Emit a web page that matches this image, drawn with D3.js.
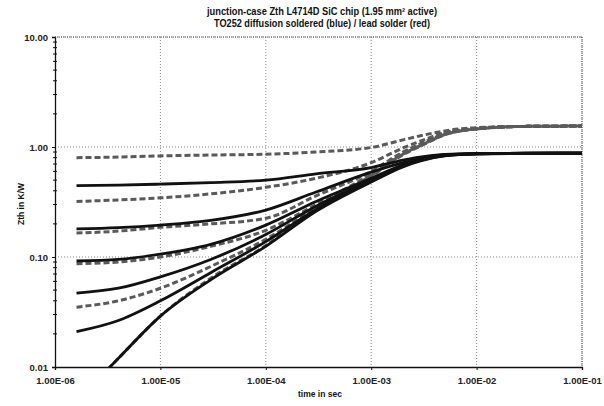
<!DOCTYPE html>
<html><head><meta charset="utf-8">
<script src="https://cdn.jsdelivr.net/npm/d3@7"></script>
<style>body{margin:0;background:#fff}svg{display:block}text{font-family:"Liberation Sans",Arial,sans-serif}</style>
</head><body>
<svg id="c" width="604" height="406"></svg>
<script>
const titleLines = ["junction-case Zth L4714D SiC chip (1.95 mm² active)", "TO252 diffusion soldered (blue)  / lead solder (red)"];
const xTitle = "time in sec";
const yTitle = "Zth in K/W";
const xTicks = [1e-6, 1e-5, 1e-4, 1e-3, 1e-2, 1e-1];
const xTickLabels = ["1.00E-06", "1.00E-05", "1.00E-04", "1.00E-03", "1.00E-02", "1.00E-01"];
const yTicks = [0.01, 0.1, 1, 10];
const yTickLabels = ["0.01", "0.10", "1.00", "10.00"];

const times = [1.6e-6, 4e-6, 1e-5, 3e-5, 1e-4, 3e-4, 1e-3, 2e-3, 3e-3, 5e-3, 1e-2, 3e-2, 1e-1];

// diffusion soldered (solid)
const solidD50 = [0.445, 0.45, 0.46, 0.475, 0.50, 0.57, 0.65, 0.76, 0.815, 0.855, 0.872, 0.877, 0.878];
const solidD20 = [0.18, 0.185, 0.195, 0.215, 0.267, 0.39, 0.59, 0.72, 0.79, 0.85, 0.87, 0.877, 0.878];
const solidD10 = [0.092, 0.095, 0.106, 0.13, 0.195, 0.32, 0.52, 0.69, 0.775, 0.845, 0.868, 0.877, 0.878];
const solidD05 = [0.047, 0.052, 0.066, 0.095, 0.16, 0.29, 0.50, 0.68, 0.765, 0.84, 0.867, 0.876, 0.878];
const solidD02 = [0.021, 0.0265, 0.04, 0.072, 0.138, 0.27, 0.49, 0.67, 0.76, 0.835, 0.866, 0.876, 0.878];
const solidSingle = [0.0048, 0.012, 0.029, 0.062, 0.125, 0.26, 0.48, 0.66, 0.75, 0.83, 0.865, 0.875, 0.878];

// lead solder (dashed)
const dashD50 = [0.80, 0.81, 0.83, 0.845, 0.86, 0.9, 0.99, 1.16, 1.27, 1.4, 1.5, 1.54, 1.55];
const dashD20 = [0.32, 0.33, 0.345, 0.375, 0.43, 0.52, 0.72, 0.98, 1.14, 1.35, 1.48, 1.54, 1.55];
const dashD10 = [0.165, 0.172, 0.186, 0.2, 0.225, 0.36, 0.6, 0.9, 1.08, 1.32, 1.47, 1.54, 1.55];
const dashD05 = [0.087, 0.09, 0.10, 0.125, 0.175, 0.3, 0.57, 0.88, 1.06, 1.31, 1.47, 1.54, 1.55];
const dashD02 = [0.035, 0.04, 0.052, 0.082, 0.145, 0.28, 0.55, 0.86, 1.04, 1.3, 1.46, 1.54, 1.55];
const dashSingle = [0.0048, 0.012, 0.029, 0.064, 0.127, 0.27, 0.54, 0.85, 1.03, 1.29, 1.46, 1.54, 1.55];

const solidSeries = [solidD50, solidD20, solidD10, solidD05, solidD02, solidSingle];
const dashSeries = [dashD50, dashD20, dashD10, dashD05, dashD02, dashSingle];

const svg = d3.select("#c");
const L = 55, R = 582, T = 37, B = 367;
const x = d3.scaleLog().domain([1e-6, 1e-1]).range([L, R]);
const y = d3.scaleLog().domain([0.01, 10]).range([B, T]);
const FONT = '"Liberation Sans",Arial,sans-serif';

// title
svg.selectAll("text.title").data(titleLines).enter().append("text")
  .attr("x", 322).attr("y", (d, i) => 15 + i * 12)
  .attr("text-anchor", "middle").attr("font-size", 10).attr("font-weight", "bold").attr("fill", "#111")
  .attr("textLength", (d, i) => i === 0 ? 230 : 216).attr("lengthAdjust", "spacingAndGlyphs")
  .text(d => d);

// grid
const grid = svg.append("g").attr("stroke", "#888").attr("stroke-width", 1).attr("stroke-dasharray", "1,2").attr("fill", "none");
grid.selectAll("line.gx").data(xTicks.slice(1)).enter().append("line")
  .attr("x1", d => x(d)).attr("x2", d => x(d)).attr("y1", T).attr("y2", B);
grid.selectAll("line.gy").data(yTicks.slice(1)).enter().append("line")
  .attr("x1", L).attr("x2", R).attr("y1", d => y(d)).attr("y2", d => y(d));

// axes
const xAxis = d3.axisBottom(x).tickValues(xTicks).tickFormat((d, i) => xTickLabels[i]).tickSize(3).tickPadding(7);
const gx = svg.append("g").attr("transform", `translate(0,${B})`).call(xAxis);
const yAxis = d3.axisLeft(y).tickValues(yTicks).tickFormat((d, i) => yTickLabels[i]).tickSize(3).tickPadding(4);
const gy = svg.append("g").attr("transform", `translate(${L},0)`).call(yAxis);
[gx, gy].forEach(g => {
  g.select(".domain").attr("stroke", "#111").attr("stroke-width", 1.3);
  g.selectAll(".tick line").attr("stroke", "#111");
  g.selectAll(".tick text").attr("font-size", 9.5).attr("font-weight", "bold").attr("fill", "#222")
    .attr("font-family", FONT);
});
// minor ticks on y
const minorY = [];
for (let e = -2; e < 1; e++) for (let m = 2; m < 10; m++) minorY.push(m * Math.pow(10, e));
gy.selectAll("line.minor").data(minorY).enter().append("line")
  .attr("x1", -2).attr("x2", 2).attr("y1", d => y(d)).attr("y2", d => y(d)).attr("stroke", "#111");

// top & right border dotted
svg.append("line").attr("x1", L).attr("x2", R).attr("y1", T).attr("y2", T)
  .attr("stroke", "#555").attr("stroke-dasharray", "1,1");
svg.append("line").attr("x1", R).attr("x2", R).attr("y1", T).attr("y2", B)
  .attr("stroke", "#555").attr("stroke-dasharray", "1,1");

// axis titles
svg.append("text").attr("x", 320).attr("y", 397).attr("text-anchor", "middle")
  .attr("font-size", 8.5).attr("font-weight", "bold").attr("fill", "#111").text(xTitle);
svg.append("text").attr("transform", "translate(24,204) rotate(-90)").attr("text-anchor", "middle")
  .attr("font-size", 8.5).attr("font-weight", "bold").attr("fill", "#111").text(yTitle);

// clip
svg.append("clipPath").attr("id", "clip").append("rect").attr("x", L).attr("y", T).attr("width", R - L).attr("height", B - T);

const line = d3.line().x((d, i) => x(times[i])).y(d => y(d)).curve(d3.curveMonotoneX);
const plot = svg.append("g").attr("clip-path", "url(#clip)").attr("fill", "none");
plot.selectAll("path.d").data(dashSeries).enter().append("path")
  .attr("d", line).attr("stroke", "#5a5a5a").attr("stroke-width", 3).attr("stroke-dasharray", "6,3");
plot.selectAll("path.s").data(solidSeries).enter().append("path")
  .attr("d", line).attr("stroke", "#111").attr("stroke-width", 2.8);
</script>
</body></html>
